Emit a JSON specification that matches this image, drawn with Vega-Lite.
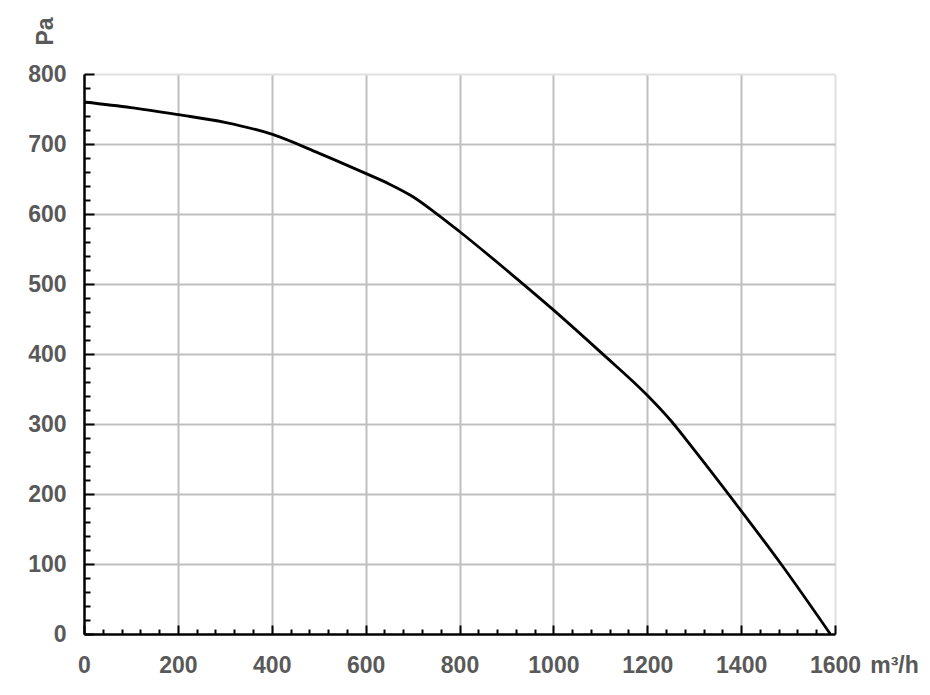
{
  "$schema": "https://vega.github.io/schema/vega-lite/v6.json",
  "autosize": "none",
  "padding": {"left": 84, "top": 74, "right": 95, "bottom": 61},
  "width": 751,
  "height": 560,
  "background": "white",
  "data": {
    "values": [
      {"flow": 0, "pa": 760},
      {"flow": 100, "pa": 752},
      {"flow": 200, "pa": 742},
      {"flow": 300, "pa": 731},
      {"flow": 400, "pa": 714},
      {"flow": 500, "pa": 687},
      {"flow": 600, "pa": 658},
      {"flow": 650, "pa": 643},
      {"flow": 700, "pa": 625},
      {"flow": 750, "pa": 601},
      {"flow": 800, "pa": 575},
      {"flow": 900, "pa": 520},
      {"flow": 1000, "pa": 463},
      {"flow": 1100, "pa": 403},
      {"flow": 1200, "pa": 341},
      {"flow": 1250, "pa": 305},
      {"flow": 1300, "pa": 263},
      {"flow": 1400, "pa": 176},
      {"flow": 1485, "pa": 100},
      {"flow": 1590, "pa": 0}
    ]
  },
  "mark": {"type": "line", "color": "black", "strokeWidth": 2.8, "interpolate": "monotone", "clip": true},
  "encoding": {
    "x": {
      "field": "flow",
      "type": "quantitative",
      "scale": {"domain": [0, 1600], "nice": false, "zero": false},
      "axis": {
        "title": "m³/h",
        "titleX": 810,
        "titleY": 31,
        "titleAlign": "center",
        "titleBaseline": "middle",
        "values": [0,40,80,120,160,200,240,280,320,360,400,440,480,520,560,600,640,680,720,760,800,840,880,920,960,1000,1040,1080,1120,1160,1200,1240,1280,1320,1360,1400,1440,1480,1520,1560,1600],
        "labelExpr": "datum.value % 200 === 0 ? datum.label : ''",
        "format": "d",
        "tickSize": {"condition": {"test": "datum.value % 200 === 0", "value": -9}, "value": -5},
        "gridOpacity": {"condition": {"test": "datum.value % 200 === 0 && datum.value > 0", "value": 1}, "value": 0},
        "gridColor": {"condition": {"test": "datum.value === 1600", "value": "#e0e0e0"}, "value": "#bfbfbf"},
        "labelPadding": 29
      }
    },
    "y": {
      "field": "pa",
      "type": "quantitative",
      "scale": {"domain": [0, 800], "nice": false},
      "axis": {
        "title": "Pa",
        "titleX": -39,
        "titleY": -43,
        "titleAngle": -90,
        "titleAlign": "center",
        "titleBaseline": "middle",
        "values": [0,20,40,60,80,100,120,140,160,180,200,220,240,260,280,300,320,340,360,380,400,420,440,460,480,500,520,540,560,580,600,620,640,660,680,700,720,740,760,780,800],
        "labelExpr": "datum.value % 100 === 0 ? datum.label : ''",
        "format": "d",
        "tickSize": {"condition": {"test": "datum.value % 100 === 0", "value": -10}, "value": -6},
        "gridOpacity": {"condition": {"test": "datum.value % 100 === 0 && datum.value > 0", "value": 1}, "value": 0},
        "gridColor": {"condition": {"test": "datum.value === 800", "value": "#e0e0e0"}, "value": "#bfbfbf"},
        "labelPadding": 28
      }
    }
  },
  "config": {
    "view": {"stroke": null},
    "axis": {
      "domainColor": "black",
      "domainWidth": 2.5,
      "tickColor": "black",
      "tickWidth": 2,
      "grid": true,
      "gridWidth": 2,
      "labelFont": "Liberation Sans",
      "labelFontWeight": "bold",
      "labelFontSize": 23,
      "labelColor": "#595959",
      "labelOverlap": false,
      "labelFlush": false,
      "titleFont": "Liberation Sans",
      "titleFontWeight": "bold",
      "titleFontSize": 23,
      "titleColor": "#595959"
    }
  }
}
